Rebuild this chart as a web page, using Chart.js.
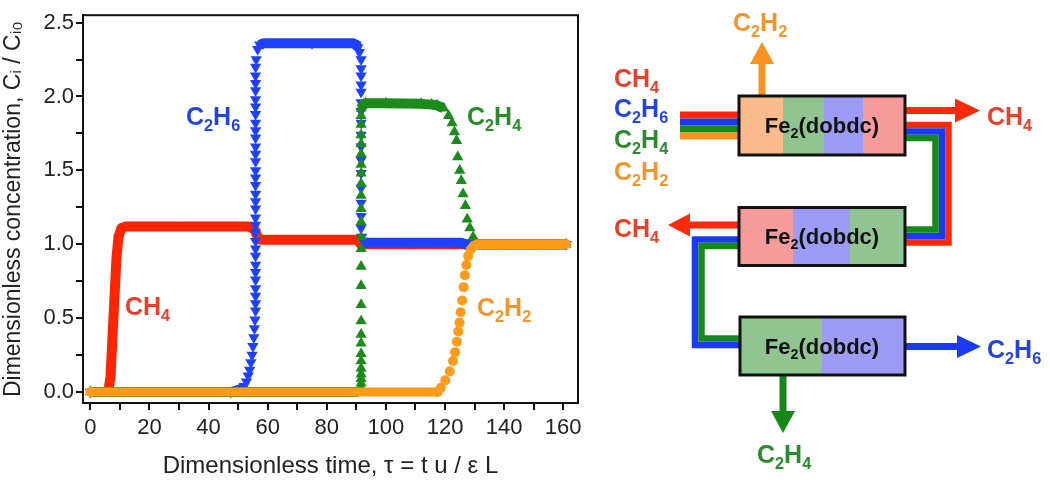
<!DOCTYPE html>
<html>
<head>
<meta charset="utf-8">
<script src="https://cdn.jsdelivr.net/npm/chart.js@4.4.1/dist/chart.umd.min.js"></script>
<style>
  body { margin: 0; background: #fff; }
  #page { position: relative; width: 1050px; height: 491px; overflow: hidden; background: #fff; }
  #breakthrough { position: absolute; left: 0; top: 0; }
  #overlay { position: absolute; left: 0; top: 0; font-family: "Liberation Sans", Arial, sans-serif; }
</style>
</head>
<body>
<div id="page">
  <canvas id="breakthrough" width="600" height="491"></canvas>
  <svg id="overlay" width="1050" height="491" xmlns="http://www.w3.org/2000/svg">
    <!-- feed stripes into column 1 -->
    <rect x="680" y="111.5" width="60" height="7" fill="#ff2a0a"/>
    <rect x="680" y="118.5" width="60" height="7" fill="#1a3af5"/>
    <rect x="680" y="125.5" width="60" height="7" fill="#17891b"/>
    <rect x="680" y="132.5" width="60" height="7" fill="#f7931e"/>
    <!-- column 1 -> column 2 -->
    <g fill="none" stroke-width="6.5" stroke-linejoin="miter">
      <polyline points="904,125 948.5,125 948.5,242.5 904,242.5" stroke="#ff2a0a"/>
      <polyline points="904,131.5 942,131.5 942,236 904,236" stroke="#1a3af5"/>
      <polyline points="904,138 935.5,138 935.5,229.5 904,229.5" stroke="#17891b"/>
      <!-- column 2 -> column 3 -->
      <polyline points="741,239.5 695,239.5 695,345 741,345" stroke="#1a3af5"/>
      <polyline points="741,246 701.5,246 701.5,338.5 741,338.5" stroke="#17891b"/>
    </g>
    <!-- outlet arrows -->
    <rect x="758.5" y="62" width="7" height="35" fill="#f7931e"/>
    <polygon points="762,42 750,64 774,64" fill="#f7931e"/>
    <rect x="904" y="107" width="53" height="7" fill="#ff2a0a"/>
    <polygon points="980,110.5 955,98.5 955,122.5" fill="#ff2a0a"/>
    <rect x="688" y="221.5" width="52" height="7" fill="#ff2a0a"/>
    <polygon points="668,225 690,213.5 690,236.5" fill="#ff2a0a"/>
    <rect x="904" y="343" width="55" height="7" fill="#1a3af5"/>
    <polygon points="981,346.5 957,335 957,358" fill="#1a3af5"/>
    <rect x="779.5" y="374" width="7" height="39" fill="#17891b"/>
    <polygon points="783,433 771,411 795,411" fill="#17891b"/>
    <!-- columns -->
    <rect x="739" y="96" width="44" height="59" fill="#f9ba8c"/>
    <rect x="783" y="96" width="41" height="59" fill="#90c490"/>
    <rect x="824" y="96" width="39" height="59" fill="#9c9cf6"/>
    <rect x="863" y="96" width="42" height="59" fill="#f79a9a"/>
    <rect x="739" y="96" width="166" height="59" fill="none" stroke="#111" stroke-width="3"/>
    <rect x="739" y="207.5" width="54" height="58" fill="#f79a9a"/>
    <rect x="793" y="207.5" width="57" height="58" fill="#9c9cf6"/>
    <rect x="850" y="207.5" width="55" height="58" fill="#90c490"/>
    <rect x="739" y="207.5" width="166" height="58" fill="none" stroke="#111" stroke-width="3"/>
    <rect x="740" y="317" width="82" height="58" fill="#90c490"/>
    <rect x="822" y="317" width="83" height="58" fill="#9c9cf6"/>
    <rect x="740" y="317" width="165" height="58" fill="none" stroke="#111" stroke-width="3"/>
    <g id="labels"></g>
  </svg>
</div>
<script>
// breakthrough curves, dimensionless time vs C/C0
const ch4Tau  = [0, 6.0, 6.8, 7.8, 8.8, 9.5, 10.5, 12, 30, 53.5, 55.5, 56.6, 57.8, 75, 90.2, 91.5, 130, 161];
const ch4Conc = [0, 0, 0.1, 0.5, 0.9, 1.05, 1.11, 1.12, 1.12, 1.12, 1.10, 1.05, 1.03, 1.03, 1.03, 1.0, 1.0, 1.0];

const c2h6Tau = [0, 47.5, 49.5, 51.0, 52.0, 52.8, 53.4, 53.9, 54.3, 54.7, 55.0, 55.3, 55.5, 55.7,
  55.9, 55.9, 55.9, 55.9, 55.9, 55.9, 55.9, 55.9, 55.9, 55.9, 55.9, 55.9, 55.9, 55.9, 55.9, 55.9,
  55.9, 55.9, 55.9, 55.9, 55.9, 55.9, 55.9, 55.9, 55.9, 55.9, 55.9, 55.9, 55.9, 55.9, 55.9, 55.9,
  56.1, 56.6, 57.3, 58.5, 75, 89.0, 89.9, 90.5, 91.0,
  91.6, 91.6, 91.6, 91.6, 91.6, 91.6, 91.6, 91.6, 91.6, 91.6, 91.6, 91.6, 91.6, 91.6, 91.6, 91.6,
  91.8, 92.4, 93.2, 110, 125.5, 127.5, 130, 161];
const c2h6Conc = [0, 0, 0.01, 0.02, 0.04, 0.07, 0.11, 0.15, 0.20, 0.25, 0.31, 0.37, 0.43, 0.49,
  0.55, 0.60, 0.65, 0.70, 0.76, 0.81, 0.86, 0.92, 0.97, 1.02, 1.08, 1.13, 1.18, 1.24, 1.29, 1.34,
  1.40, 1.45, 1.50, 1.56, 1.61, 1.66, 1.72, 1.77, 1.82, 1.88, 1.93, 1.98, 2.04, 2.09, 2.14, 2.20,
  2.25, 2.32, 2.35, 2.36, 2.36, 2.36, 2.35, 2.33, 2.30,
  2.25, 2.19, 2.14, 2.08, 2.03, 1.96, 1.90, 1.82, 1.74, 1.66, 1.57, 1.48, 1.38, 1.28, 1.19, 1.11,
  1.05, 1.02, 1.01, 1.01, 1.01, 0.995, 1.0, 1.0];

const c2h4Tau = [0, 90.8,
  91.6, 91.6, 91.6, 91.6, 91.6, 91.6, 91.6, 91.6, 91.6, 91.6, 91.6, 91.6, 91.6, 91.6,
  91.6, 91.6, 91.6, 91.6, 91.6, 91.6, 91.6, 91.6, 91.6, 91.6, 91.6, 91.6, 91.6,
  92.3, 93.2, 100, 112, 115.5, 117.3, 119.5, 121.2, 122.4, 123.2, 123.9, 124.3, 125.0, 125.5,
  126.1, 126.9, 127.5, 128.4, 129.5, 131, 161];
const c2h4Conc = [0, 0,
  0.03, 0.06, 0.09, 0.12, 0.16, 0.21, 0.26, 0.33, 0.39, 0.48, 0.59, 0.72, 0.85, 0.97,
  1.05, 1.15, 1.24, 1.33, 1.41, 1.48, 1.54, 1.61, 1.68, 1.74, 1.81, 1.87, 1.92,
  1.945, 1.955, 1.955, 1.95, 1.945, 1.94, 1.92, 1.87, 1.82, 1.76, 1.70, 1.59, 1.50, 1.43,
  1.34, 1.26, 1.17, 1.11, 1.05, 1.0, 1.0];

const c2h2Tau = [0, 117.5, 118.6, 120.1, 121.6, 122.7, 123.4, 124.0, 124.5, 124.9, 125.3, 125.8,
  126.3, 126.7, 127.2, 127.8, 128.7, 129.8,
  131, 132.5, 134, 135.5, 137, 138.5, 140, 141.5, 143, 144.5, 146, 147.5, 149, 150.5, 152, 153.5,
  155, 156.5, 158, 159.5, 161];
const c2h2Conc = [0, 0, 0.03, 0.08, 0.14, 0.21, 0.27, 0.34, 0.41, 0.47, 0.54, 0.62,
  0.71, 0.79, 0.86, 0.92, 0.965, 0.99,
  1.0, 1.0, 1.0, 1.0, 1.0, 1.0, 1.0, 1.0, 1.0, 1.0, 1.0, 1.0, 1.0, 1.0, 1.0, 1.0,
  1.0, 1.0, 1.0, 1.0, 1.0];

const xTitle = 'Dimensionless time, \u03c4 = t u / \u03b5 L';
const yTitle = 'Dimensionless concentration, C\u1d62 / C\u1d62\u2080';

// text labels: formula, x, y(baseline), colour
const curveLabels = [
  ['CH4', 125, 315, '#e8402a'],
  ['C2H6', 186, 125, '#2344e0'],
  ['C2H4', 467, 125, '#2b8a2b'],
  ['C2H2', 477, 316, '#f2962c']
];
const flowLabels = [
  ['C2H2', 733, 31, '#f2962c'],
  ['CH4', 614, 87, '#e8402a'],
  ['C2H6', 614, 117, '#2344e0'],
  ['C2H4', 614, 148, '#2b8a2b'],
  ['C2H2', 614, 180, '#f2962c'],
  ['CH4', 987, 125, '#e8402a'],
  ['CH4', 614, 237, '#e8402a'],
  ['C2H6', 987, 358, '#2344e0'],
  ['C2H4', 757, 463, '#2b8a2b']
];
const columnBaselines = [133, 244, 354];

function pts(tau, conc) {
  return tau.map((t, i) => ({ x: t, y: conc[i] }));
}

// steep gaps show the separate markers only, like the original plot
function gapColour(ctx) {
  const dx = Math.abs(ctx.p1.x - ctx.p0.x), dy = Math.abs(ctx.p1.y - ctx.p0.y);
  return (dy > 4 && dy > dx) ? 'rgba(0,0,0,0)' : undefined;
}

const framePlugin = {
  id: 'frame',
  afterDraw(chart) {
    const { ctx, chartArea: a } = chart;
    ctx.save();
    ctx.strokeStyle = '#111';
    ctx.lineWidth = 2;
    ctx.strokeRect(a.left, a.top, a.right - a.left, a.bottom - a.top);
    ctx.restore();
  }
};

Chart.defaults.font.family = '"Liberation Sans", Arial, sans-serif';
Chart.defaults.color = '#222';

const seriesStyle = (colour, style, radius, rot, order, width, gaps) => ({
  borderColor: colour, backgroundColor: colour, pointBackgroundColor: colour,
  pointStyle: style, pointRadius: radius, pointRotation: rot, pointBorderWidth: 0,
  borderWidth: width, borderJoinStyle: 'round', tension: 0, order: order,
  segment: gaps ? { borderColor: gapColour } : undefined
});

new Chart(document.getElementById('breakthrough'), {
  type: 'line',
  data: {
    datasets: [
      Object.assign({ label: 'CH4', data: pts(ch4Tau, ch4Conc) }, seriesStyle('#ff2500', 'rect', 4, 0, 4, 10, false)),
      Object.assign({ label: 'C2H6', data: pts(c2h6Tau, c2h6Conc) }, seriesStyle('#1f40ff', 'triangle', 6.5, 180, 3, 10, true)),
      Object.assign({ label: 'C2H4', data: pts(c2h4Tau, c2h4Conc) }, seriesStyle('#1b8b1b', 'triangle', 6.5, 0, 2, 10, true)),
      Object.assign({ label: 'C2H2', data: pts(c2h2Tau, c2h2Conc) }, seriesStyle('#ff9b1a', 'circle', 5, 0, 1, 9, true))
    ]
  },
  options: {
    responsive: false,
    animation: false,
    layout: { autoPadding: false, padding: { left: 0, top: 5, right: 22, bottom: 0 } },
    plugins: { legend: { display: false }, tooltip: { enabled: false } },
    scales: {
      x: {
        type: 'linear', min: -2.5, max: 165,
        afterFit: s => { s.height = 88; },
        border: { display: true, color: '#111', width: 2 },
        grid: { drawOnChartArea: false, drawTicks: true, tickLength: 7, color: '#111', lineWidth: 2 },
        ticks: {
          stepSize: 10, includeBounds: false, autoSkip: false, maxRotation: 0, padding: 5,
          font: { size: 22 },
          callback: v => (v % 20 === 0 ? String(v) : '')
        },
        title: { display: true, text: xTitle, font: { size: 24 }, padding: { top: 0, bottom: 10 } }
      },
      y: {
        type: 'linear', min: -0.074, max: 2.55,
        afterFit: s => { s.width = 83; },
        border: { display: true, color: '#111', width: 2 },
        grid: { drawOnChartArea: false, drawTicks: true, tickLength: 7, color: '#111', lineWidth: 2 },
        ticks: {
          stepSize: 0.25, includeBounds: false, autoSkip: false, padding: 2,
          font: { size: 22 },
          callback: v => (Math.abs(v * 2 - Math.round(v * 2)) < 1e-6 ? v.toFixed(1) : '')
        },
        title: { display: true, text: yTitle, font: { size: 23 }, padding: { top: 0, bottom: 0 } }
      }
    }
  },
  plugins: [framePlugin]
});

// chemical formulas with subscripted digits
const NS = 'http://www.w3.org/2000/svg';
const labelLayer = document.getElementById('labels');
function formula(str, x, y, colour, size, anchor) {
  const t = document.createElementNS(NS, 'text');
  t.setAttribute('x', x);
  t.setAttribute('y', y);
  t.setAttribute('fill', colour);
  t.setAttribute('font-size', size);
  t.setAttribute('font-weight', 'bold');
  if (anchor) t.setAttribute('text-anchor', anchor);
  let low = false;
  str.match(/\d+|\D+/g).forEach(part => {
    const s = document.createElementNS(NS, 'tspan');
    const sub = /\d/.test(part);
    if (sub !== low) s.setAttribute('dy', (sub ? 1 : -1) * size * 0.22);
    if (sub) s.setAttribute('font-size', size * 0.65);
    s.textContent = part;
    t.appendChild(s);
    low = sub;
  });
  labelLayer.appendChild(t);
}
curveLabels.forEach(l => formula(l[0], l[1], l[2], l[3], 25));
flowLabels.forEach(l => formula(l[0], l[1], l[2], l[3], 25));
columnBaselines.forEach(y => formula('Fe2(dobdc)', 822, y, '#111', 22, 'middle'));
</script>
</body>
</html>
